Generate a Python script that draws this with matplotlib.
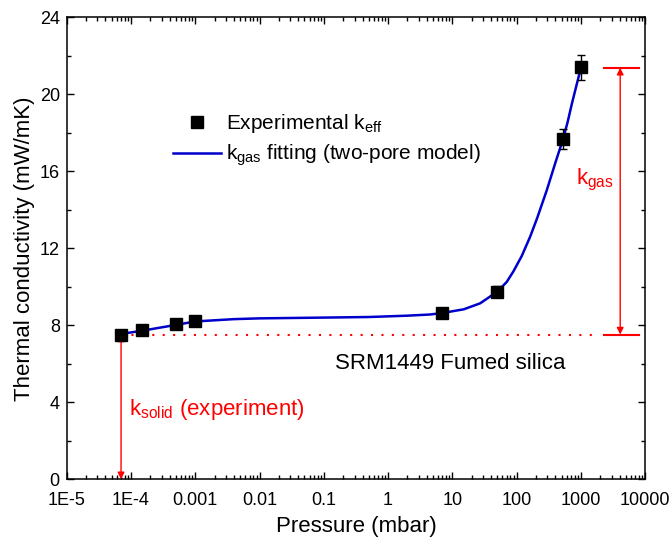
import numpy as np
import matplotlib.pyplot as plt
from matplotlib.lines import Line2D
from matplotlib.ticker import FixedLocator, LogLocator, MultipleLocator, NullFormatter

plt.rcParams['font.family'] = ['Liberation Sans', 'DejaVu Sans']
plt.rcParams['mathtext.fontset'] = 'custom'
plt.rcParams['mathtext.rm'] = 'Liberation Sans'
plt.rcParams['mathtext.it'] = 'Liberation Sans:italic'

# experimental points (pressure in mbar, k in mW/mK)
pressure = [7e-5, 1.5e-4, 5e-4, 1e-3, 7, 50, 530, 1000]
k_eff = [7.52, 7.74, 8.09, 8.24, 8.65, 9.75, 17.68, 21.40]
k_err = [0.1, 0.1, 0.1, 0.1, 0.15, 0.3, 0.53, 0.66]

# two-pore model fit
fit_p = [7e-5, 1.5e-4, 5e-4, 1e-3, 4e-3, 0.01, 0.1, 0.5, 2, 4.5, 7, 15, 27, 50,
         70, 89, 120, 162, 210, 295, 398, 525, 620, 725, 850, 1000]
fit_k = [7.55, 7.72, 8.02, 8.20, 8.32, 8.36, 8.40, 8.43, 8.50, 8.56, 8.64, 8.83,
         9.14, 9.75, 10.25, 10.80, 11.60, 12.60, 13.60, 15.03, 16.42, 17.66,
         18.55, 19.53, 20.45, 21.38]

xticks = [1e-5, 1e-4, 1e-3, 1e-2, 0.1, 1, 10, 100, 1000, 10000]
xticklabels = ['1E-5', '1E-4', '0.001', '0.01', '0.1', '1', '10', '100', '1000', '10000']

k_solid = 7.52
k_top = 21.38

red = '#ff0000'
blue = '#0000cc'

fig = plt.figure(figsize=(6.7, 5.45), dpi=100)
ax = fig.add_axes([0.0996, 0.1206, 0.8634, 0.8476])

ax.plot(fit_p, fit_k, color=blue, lw=1.8, zorder=3)
ax.errorbar(pressure, k_eff, yerr=k_err, fmt='s', color='black', ms=8,
            capsize=3, elinewidth=1, capthick=1, zorder=4)

# solid conduction baseline
ax.plot([pressure[0], 1900], [k_solid, k_solid], color=red, lw=1.5,
        ls=(0, (1, 4)), zorder=2)
ax.annotate('', xy=(pressure[0], 0), xytext=(pressure[0], k_solid),
            arrowprops=dict(arrowstyle='<|-|>', color=red, lw=1,
                            mutation_scale=10, shrinkA=0, shrinkB=0))
ax.text(9.4e-5, 3.6, 'k$_{\\rm solid}$ (experiment)', color=red, fontsize=16,
        va='center', ha='left')

# gas conduction span
ax.plot([2300, 8070], [k_top, k_top], color=red, lw=1.5)
ax.plot([2300, 8070], [k_solid, k_solid], color=red, lw=1.5)
ax.annotate('', xy=(4083, k_top), xytext=(4083, k_solid),
            arrowprops=dict(arrowstyle='<|-|>', color=red, lw=1,
                            mutation_scale=10, shrinkA=0, shrinkB=0))
ax.text(1667, 15.55, 'k$_{\\rm gas}$', color=red, fontsize=16,
        va='center', ha='center')

ax.text(0.15, 6.04, 'SRM1449 Fumed silica', fontsize=16, va='center', ha='left')

ax.set_xscale('log')
ax.set_xlim(1e-5, 1e4)
ax.set_ylim(0, 24)
ax.xaxis.set_major_locator(FixedLocator(xticks))
ax.set_xticklabels(xticklabels)
ax.xaxis.set_minor_locator(LogLocator(base=10, subs=np.arange(2, 10), numticks=20))
ax.xaxis.set_minor_formatter(NullFormatter())
ax.yaxis.set_major_locator(MultipleLocator(4))
ax.yaxis.set_minor_locator(MultipleLocator(2))

ax.tick_params(which='both', direction='in', top=True, right=True, labelsize=13,
               width=1)
ax.tick_params(which='major', length=5)
ax.tick_params(which='minor', length=3)
ax.tick_params(axis='y', which='both', right=True)
ax.tick_params(axis='x', pad=9.5)
ax.tick_params(axis='y', pad=5)
for s in ax.spines.values():
    s.set_linewidth(1.1)

ax.set_xlabel('Pressure (mbar)', fontsize=16, labelpad=5)
ax.set_ylabel('Thermal conductivity (mW/mK)', fontsize=16, labelpad=3)

handles = [
    Line2D([], [], ls='none', marker='s', ms=8, color='black'),
    Line2D([], [], color=blue, lw=1.8),
]
labels = ['Experimental k$_{\\rm eff}$', 'k$_{\\rm gas}$ fitting (two-pore model)']
ax.legend(handles, labels, loc='upper left', frameon=False,
          bbox_to_anchor=(0.184, 0.795), borderaxespad=0, borderpad=0,
          fontsize=15, handlelength=2.3, handletextpad=0.25, labelspacing=0.38)

fig.savefig('out.png', dpi=100)
